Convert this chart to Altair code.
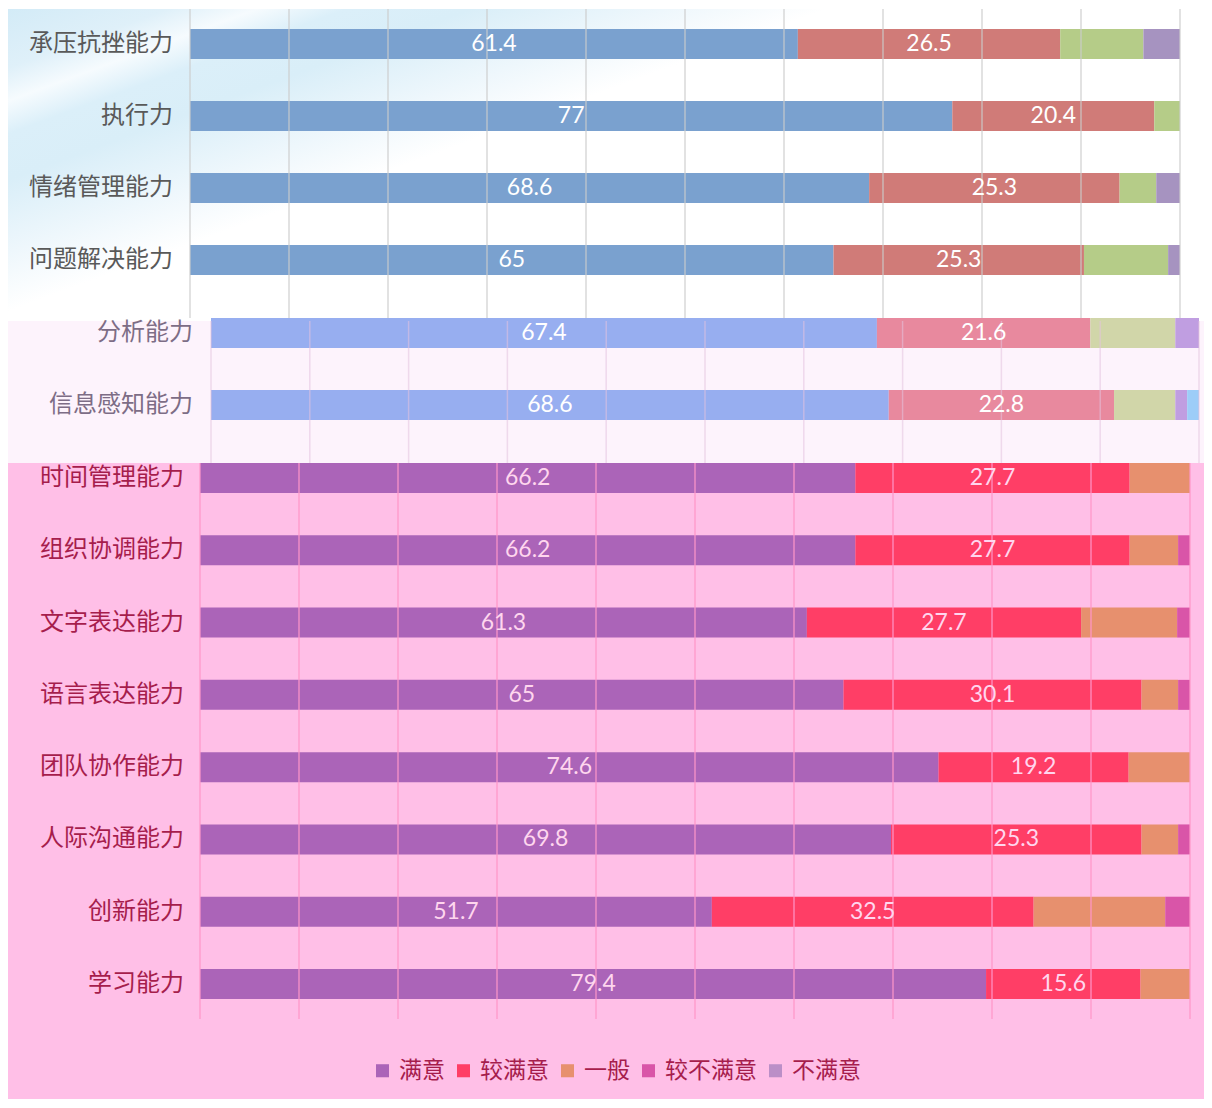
import altair as alt
import pandas as pd

LEVELS = ["满意", "较满意", "一般", "较不满意", "不满意"]

# ---- top section ----
top_cats = ["承压抗挫能力", "执行力", "情绪管理能力", "问题解决能力"]
top_s1 = [61.4, 77, 68.6, 65]
top_s2 = [26.5, 20.4, 25.3, 25.3]
top_s3 = [8.4, 2.6, 3.7, 8.5]
top_s4 = [3.7, 0, 2.4, 1.2]
top_s5 = [0, 0, 0, 0]

# ---- middle section ----
mid_cats = ["分析能力", "信息感知能力"]
mid_s1 = [67.4, 68.6]
mid_s2 = [21.6, 22.8]
mid_s3 = [8.6, 6.2]
mid_s4 = [2.4, 1.2]
mid_s5 = [0, 1.2]

# ---- bottom section ----
bot_cats = ["时间管理能力", "组织协调能力", "文字表达能力", "语言表达能力",
            "团队协作能力", "人际沟通能力", "创新能力", "学习能力"]
bot_s1 = [66.2, 66.2, 61.3, 65, 74.6, 69.8, 51.7, 79.4]
bot_s2 = [27.7, 27.7, 27.7, 30.1, 19.2, 25.3, 32.5, 15.6]
bot_s3 = [6.1, 4.9, 9.7, 3.7, 6.2, 3.7, 13.3, 5.0]
bot_s4 = [0, 1.2, 1.3, 1.2, 0, 1.2, 2.5, 0]
bot_s5 = [0, 0, 0, 0, 0, 0, 0, 0]

grid_ticks = list(range(0, 101, 10))

TOP_COLORS = ["#7aa1cf", "#d07b78", "#b5cc88", "#a693c0", "#a693c0"]
MID_COLORS = ["#97aef0", "#e8899e", "#d1d6a9", "#c09ee1", "#9dcdf8"]
BOT_COLORS = ["#ab64b8", "#ff3e66", "#e7906e", "#d955a8", "#bb8fc7"]

CJK = "Noto Sans CJK SC"
NUM_FONT = "Lato"
W, H = 1196, 1090


def build_df(cats, series, field):
    rows = []
    for i, c in enumerate(cats):
        acc = 0.0
        for lvl, vals in zip(LEVELS, series):
            v = vals[i]
            if v > 0:
                rows.append({
                    "cat": c, field: lvl, "value": v,
                    "start": acc, "end": acc + v, "mid": acc + v / 2,
                    "label": f"{v:g}" if lvl in LEVELS[:2] else "",
                })
            acc += v
    return pd.DataFrame(rows)


def section(df, cats, colors, field, *, x_range, y_range, pad_inner,
            bg_y, bg_y2, bg_fill, grid_y, grid_y2, grid_color, grid_opacity,
            label_x, label_color, text_color, legend=None):
    xs = alt.Scale(domain=[0, 100], range=x_range, nice=False, zero=True)
    ys = alt.Scale(domain=cats, range=y_range, paddingInner=pad_inner,
                   paddingOuter=pad_inner / 2)
    yenc = alt.Y("cat:N", sort=cats, scale=ys, axis=None)

    bg = alt.Chart(pd.DataFrame({"a": [0]})).mark_rect(fill=bg_fill).encode(
        x=alt.value(0), x2=alt.value(W), y=alt.value(bg_y), y2=alt.value(bg_y2)
    )
    bars = alt.Chart(df).mark_bar().encode(
        x=alt.X("start:Q", scale=xs, axis=None),
        x2="end:Q",
        y=yenc,
        color=alt.Color(f"{field}:N", scale=alt.Scale(domain=LEVELS, range=colors),
                        legend=legend),
    )
    grid = alt.Chart(pd.DataFrame({"g": grid_ticks})).mark_rule(
        color=grid_color, opacity=grid_opacity, strokeWidth=1.5
    ).encode(
        x=alt.X("g:Q", scale=xs, axis=None),
        y=alt.value(grid_y), y2=alt.value(grid_y2),
    )
    nums = alt.Chart(df).mark_text(font=NUM_FONT, fontSize=23, color=text_color,
                                   align="center", baseline="middle").encode(
        x=alt.X("mid:Q", scale=xs, axis=None),
        y=yenc,
        text="label:N",
    )
    labels = alt.Chart(pd.DataFrame({"cat": cats})).mark_text(
        font=CJK, fontSize=24, color=label_color, align="right", baseline="middle"
    ).encode(
        x=alt.value(label_x),
        y=yenc,
        text="cat:N",
    )
    return [bg, bars, grid, nums, labels]


top_df = build_df(top_cats, [top_s1, top_s2, top_s3, top_s4, top_s5], "lv_top")
mid_df = build_df(mid_cats, [mid_s1, mid_s2, mid_s3, mid_s4, mid_s5], "lv_mid")
bot_df = build_df(bot_cats, [bot_s1, bot_s2, bot_s3, bot_s4, bot_s5], "lv_bot")

top_grad = alt.Gradient(
    gradient="linear", x1=0, y1=0, x2=1, y2=0.7,
    stops=[alt.GradientStop(color="#d3ebf7", offset=0),
           alt.GradientStop(color="#dff0f9", offset=0.09),
           alt.GradientStop(color="#f6fbfe", offset=0.14),
           alt.GradientStop(color="#dbeff9", offset=0.19),
           alt.GradientStop(color="#d9eef8", offset=0.26),
           alt.GradientStop(color="#eef7fc", offset=0.37),
           alt.GradientStop(color="#ffffff", offset=0.46),
           alt.GradientStop(color="#ffffff", offset=1)],
)

top_layers = section(
    top_df, top_cats, TOP_COLORS, "lv_top",
    x_range=[182, 1172], y_range=[-1, 287], pad_inner=0.5833,
    bg_y=0, bg_y2=309, bg_fill=top_grad,
    grid_y=0, grid_y2=309, grid_color="#cccccc", grid_opacity=0.75,
    label_x=165, label_color="#595959", text_color="#ffffff")

mid_layers = section(
    mid_df, mid_cats, MID_COLORS, "lv_mid",
    x_range=[203, 1191], y_range=[288, 432], pad_inner=0.5833,
    bg_y=312, bg_y2=454, bg_fill="#fdf3fc",
    grid_y=312, grid_y2=454, grid_color="#e3c3df", grid_opacity=0.55,
    label_x=185, label_color="#7d6d86", text_color="#ffffff")

bot_legend = alt.Legend(orient="none", legendX=363, legendY=1050,
                        direction="horizontal", columns=5, title=None,
                        symbolType="square", symbolSize=170, symbolStrokeWidth=0,
                        labelFont=CJK, labelFontSize=23, labelColor="#a61d4c",
                        labelOffset=5, columnPadding=7)

bot_layers = section(
    bot_df, bot_cats, BOT_COLORS, "lv_bot",
    x_range=[192, 1182], y_range=[432.86, 1011.14], pad_inner=0.585,
    bg_y=454, bg_y2=1090, bg_fill="#ffbfe7",
    grid_y=454, grid_y2=1010, grid_color="#ff96c8", grid_opacity=0.8,
    label_x=176, label_color="#a61d4c", text_color="#ffd6ee",
    legend=bot_legend)

# draw order: top, bottom, then middle (middle bars overlap the top strip slightly)
layers = top_layers + bot_layers + mid_layers

chart = alt.layer(*layers).resolve_scale(
    x="independent", y="independent", color="independent"
).properties(width=W, height=H, padding=0).configure_view(stroke=None)

chart.save("out.html", embed_options={"renderer": "svg", "actions": False})
